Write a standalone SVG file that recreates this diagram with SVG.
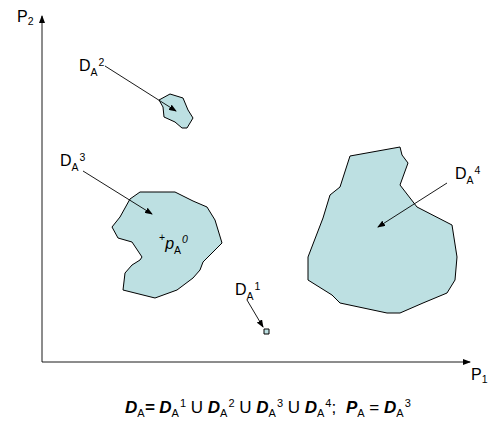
<svg xmlns="http://www.w3.org/2000/svg" width="497" height="423" viewBox="0 0 497 423">
<defs>
<marker id="ah" markerWidth="8" markerHeight="6" refX="7" refY="3" orient="auto" markerUnits="userSpaceOnUse">
<path d="M0,0 L8,3 L0,6 Z" fill="#000"/>
</marker>
<style>
.reg{fill:#BDE0E2;stroke:#000;stroke-width:1;stroke-linejoin:round}
.ln{stroke:#000;stroke-width:0.9;fill:none}
.t{font-family:"Liberation Sans",Arial,sans-serif;font-size:16px;fill:#000}
.s{font-size:10.5px}
.f{font-size:17px}
.fs{font-size:11px}
.bi{font-weight:bold;font-style:italic}
</style>
</defs>
<rect width="497" height="423" fill="#fff"/>
<g id="regions">
<g id="DA2"><polygon class="reg" points="159,100 170,94 183,98 188,110 193,118 187,128 182,128 175,122 164,117 163,107"/></g>
<g id="DA3"><polygon class="reg" points="140,192 175,192 193,201 207,207 215,220 222,243 203,262 200,270 193,278 177,290 155,298 123,290 125,273 132,265 140,260 142,257 132,242 118,238 112,227 120,217 130,199"/></g>
<g id="DA4"><polygon class="reg" points="350,156 400,147 402,155 408,163 400,185 417,207 452,225 457,257 455,280 447,293 423,303 400,313 387,313 340,303 332,295 308,280 308,257 323,218 330,195 340,187"/></g>
<g id="DA1"><rect class="reg" x="264" y="329" width="5" height="5"/></g>
</g>
<g id="connectors">
<line class="ln" x1="42" y1="362" x2="42" y2="16" marker-end="url(#ah)"/>
<line class="ln" x1="42" y1="362" x2="470" y2="362" marker-end="url(#ah)"/>
<line class="ln" x1="105" y1="66" x2="176" y2="111" marker-end="url(#ah)"/>
<line class="ln" x1="83" y1="171" x2="152" y2="214" marker-end="url(#ah)"/>
<line class="ln" x1="447" y1="183" x2="378" y2="227" marker-end="url(#ah)"/>
<line class="ln" x1="247" y1="300" x2="263" y2="327" marker-end="url(#ah)"/>
</g>
<g id="labels">
<text class="t" x="17" y="22">P<tspan class="s" dy="3">2</tspan></text>
<text class="t" x="471" y="380">P<tspan class="s" dy="3">1</tspan></text>
<text class="t" x="79" y="71">D<tspan class="s" dy="5">A</tspan><tspan class="s" dy="-10" dx="1">2</tspan></text>
<text class="t" x="60" y="166">D<tspan class="s" dy="5">A</tspan><tspan class="s" dy="-10" dx="1">3</tspan></text>
<text class="t" x="235" y="295">D<tspan class="s" dy="5">A</tspan><tspan class="s" dy="-10" dx="1">1</tspan></text>
<text class="t" x="455" y="179">D<tspan class="s" dy="5">A</tspan><tspan class="s" dy="-10" dx="1">4</tspan></text>
<text class="t" x="159" y="241"><tspan class="s">+</tspan><tspan font-style="italic" dy="8">p</tspan><tspan class="s" dy="5">A</tspan><tspan class="s" dy="-11" dx="1" font-style="italic">0</tspan></text>
<text class="t f" x="125" y="413"><tspan class="bi">D</tspan><tspan class="fs" dy="4">A</tspan><tspan class="bi" dy="-4">= D</tspan><tspan class="fs" dy="4">A</tspan><tspan class="fs" dy="-10" dx="1">1</tspan><tspan dy="6"> U </tspan><tspan class="bi">D</tspan><tspan class="fs" dy="4">A</tspan><tspan class="fs" dy="-10" dx="1">2</tspan><tspan dy="6"> U </tspan><tspan class="bi">D</tspan><tspan class="fs" dy="4">A</tspan><tspan class="fs" dy="-10" dx="1">3</tspan><tspan dy="6"> U </tspan><tspan class="bi">D</tspan><tspan class="fs" dy="4">A</tspan><tspan class="fs" dy="-10" dx="1">4</tspan><tspan dy="6">; </tspan><tspan class="bi" dx="5">P</tspan><tspan class="fs" dy="4">A</tspan><tspan dy="-4"> = </tspan><tspan class="bi">D</tspan><tspan class="fs" dy="4">A</tspan><tspan class="fs" dy="-10" dx="1">3</tspan></text>
</g>
</svg>
